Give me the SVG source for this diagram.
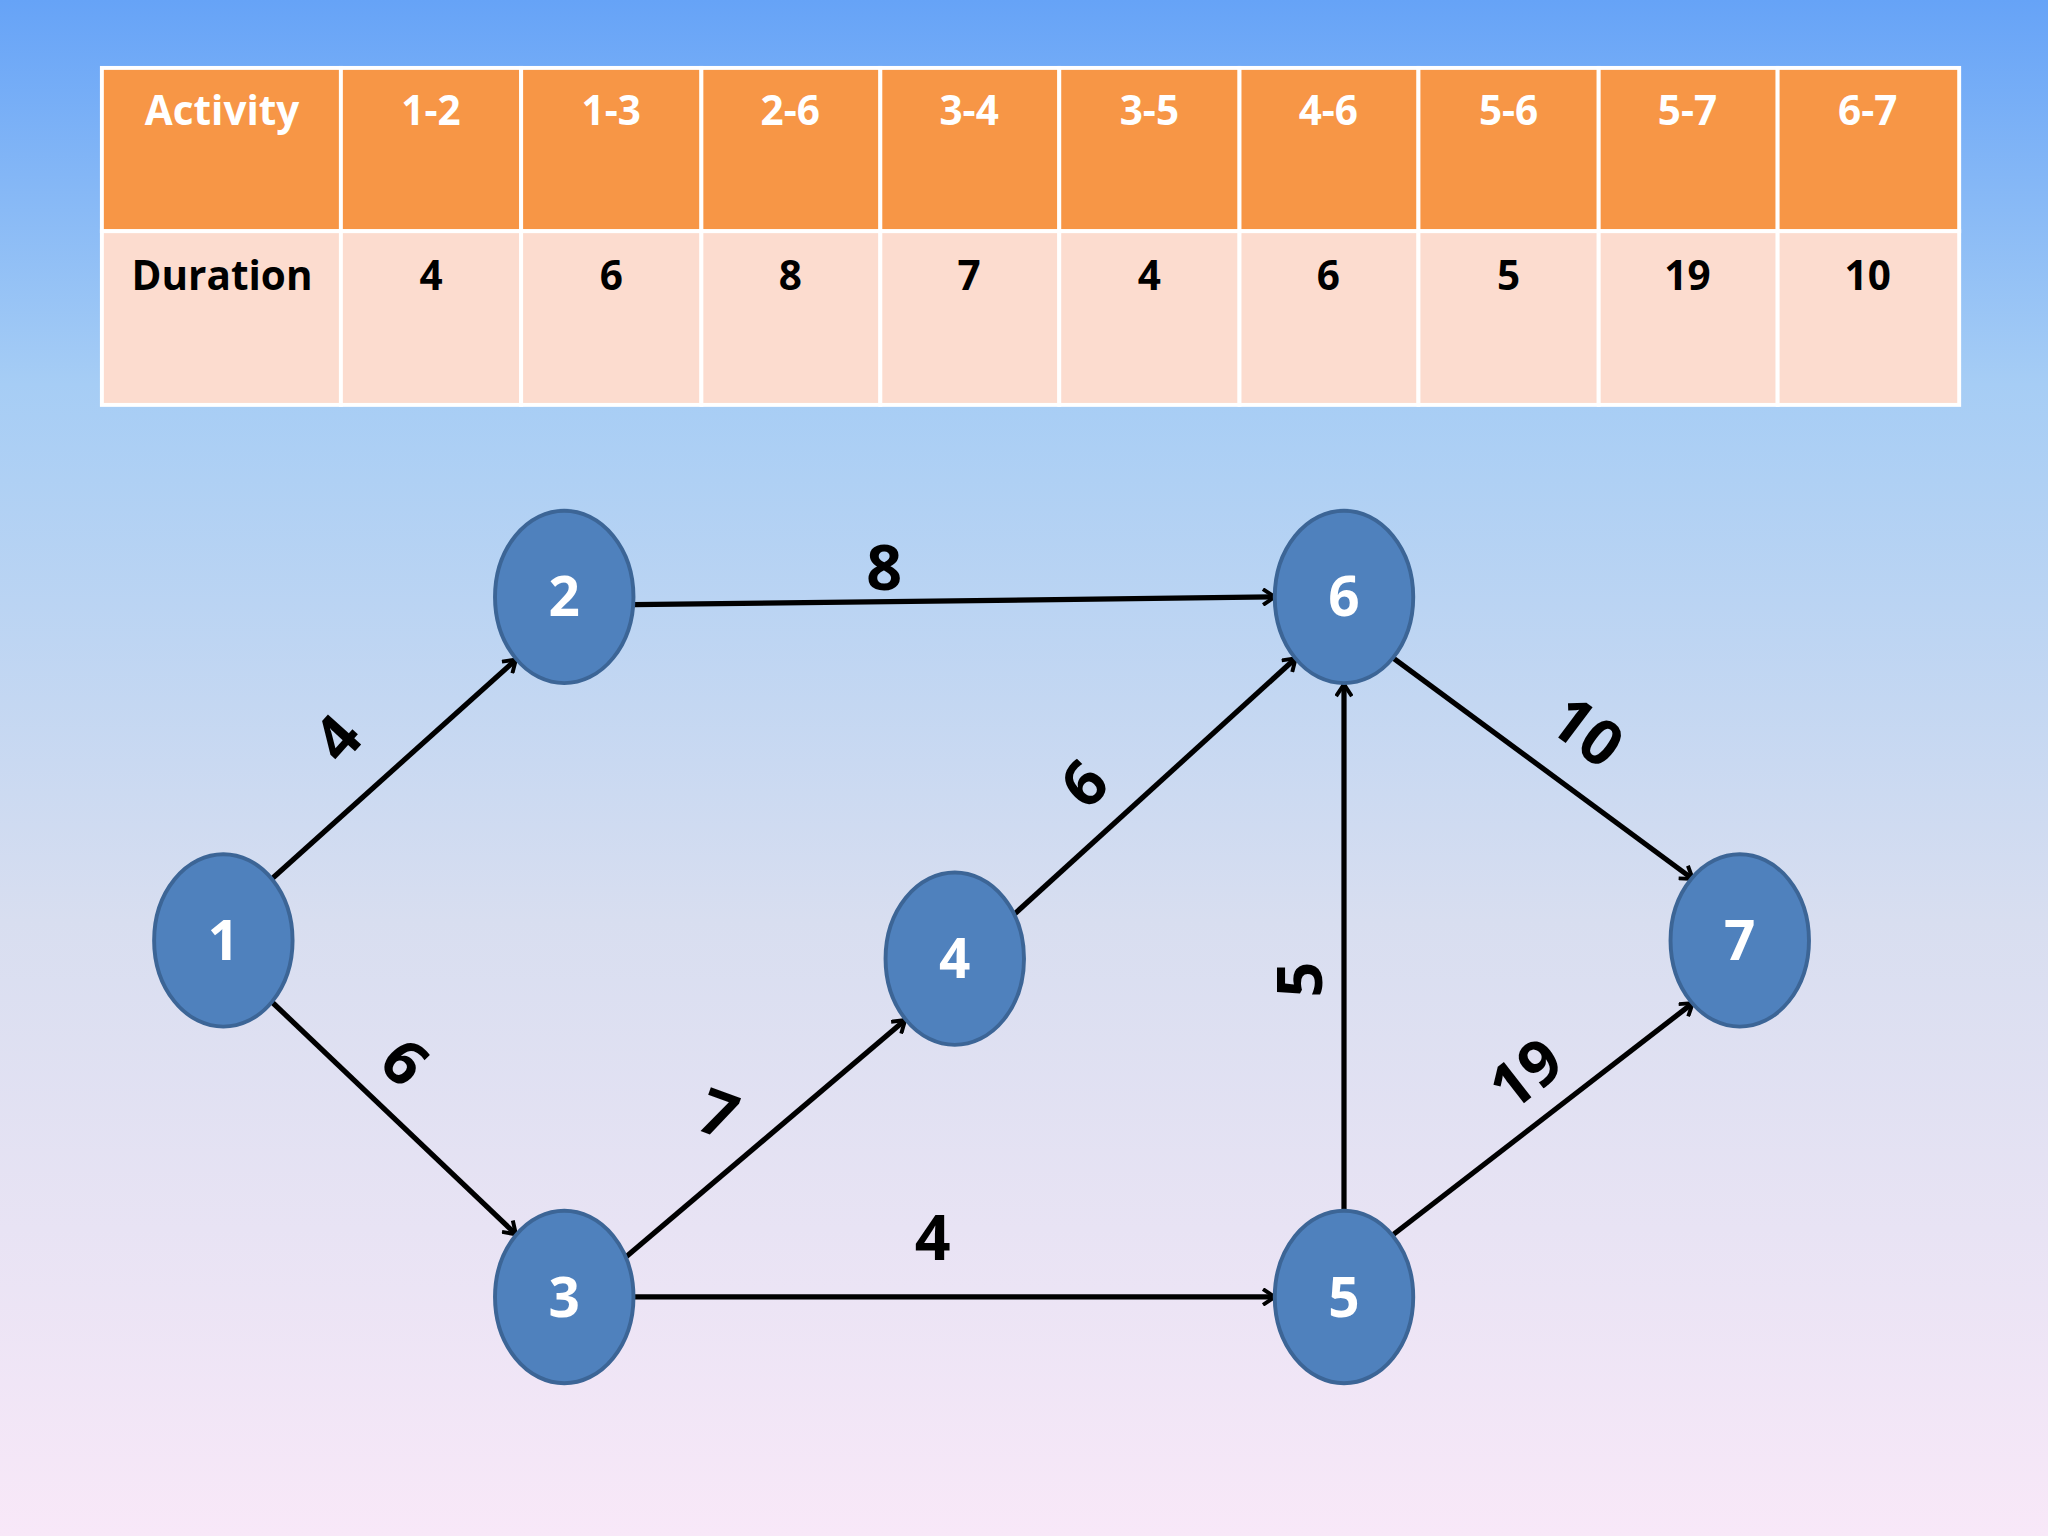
<svg xmlns="http://www.w3.org/2000/svg" width="2048" height="1536" viewBox="0 0 2048 1536">
<defs>
<linearGradient id="bg" x1="0" y1="0" x2="0" y2="1">
<stop offset="0" stop-color="#66a3f7"/><stop offset="0.25" stop-color="#a6cdf5"/><stop offset="0.6" stop-color="#d8def0"/><stop offset="1" stop-color="#f8e8f8"/>
</linearGradient>
<marker id="ah" markerWidth="14" markerHeight="14" refX="11" refY="7" orient="auto" markerUnits="userSpaceOnUse">
<path d="M2,1 L11,7 L2,13" fill="none" stroke="#000" stroke-width="3"/>
</marker>
<style>
.h{fill:#f79646;stroke:#fff;stroke-width:3}
.c{fill:#fcdccf;stroke:#fff;stroke-width:3}
.ht{font-family:"Open Sans","Liberation Sans",sans-serif;font-weight:bold;font-size:31px;fill:#fff;text-anchor:middle}
.ct{font-family:"Open Sans","Liberation Sans",sans-serif;font-weight:bold;font-size:31px;fill:#000;text-anchor:middle}
.n{fill:#4f81bd;stroke:#3c6596;stroke-width:3}
.nt{font-family:"Open Sans","Liberation Sans",sans-serif;font-weight:bold;font-size:42px;fill:#fff;text-anchor:middle}
.e{stroke:#000;stroke-width:4;fill:none;marker-end:url(#ah)}
.el{font-family:"Open Sans","Liberation Sans",sans-serif;font-weight:bold;font-size:48px;fill:#000;text-anchor:middle}
</style>
</defs>
<rect width="2048" height="1536" fill="url(#bg)"/>
<g transform="scale(1.30612)">
<g id="table">
<rect class="h" x="78" y="52" width="183" height="125"/>
<rect class="h" x="261" y="52" width="138" height="125"/>
<rect class="h" x="399" y="52" width="138" height="125"/>
<rect class="h" x="537" y="52" width="137" height="125"/>
<rect class="h" x="674" y="52" width="137" height="125"/>
<rect class="h" x="811" y="52" width="138" height="125"/>
<rect class="h" x="949" y="52" width="137" height="125"/>
<rect class="h" x="1086" y="52" width="138" height="125"/>
<rect class="h" x="1224" y="52" width="137" height="125"/>
<rect class="h" x="1361" y="52" width="139" height="125"/>
<rect class="c" x="78" y="177" width="183" height="133"/>
<rect class="c" x="261" y="177" width="138" height="133"/>
<rect class="c" x="399" y="177" width="138" height="133"/>
<rect class="c" x="537" y="177" width="137" height="133"/>
<rect class="c" x="674" y="177" width="137" height="133"/>
<rect class="c" x="811" y="177" width="138" height="133"/>
<rect class="c" x="949" y="177" width="137" height="133"/>
<rect class="c" x="1086" y="177" width="138" height="133"/>
<rect class="c" x="1224" y="177" width="137" height="133"/>
<rect class="c" x="1361" y="177" width="139" height="133"/>
<text class="ht" x="170" y="96">Activity</text>
<text class="ht" x="330" y="96">1-2</text>
<text class="ht" x="468" y="96">1-3</text>
<text class="ht" x="605" y="96">2-6</text>
<text class="ht" x="742" y="96">3-4</text>
<text class="ht" x="880" y="96">3-5</text>
<text class="ht" x="1017" y="96">4-6</text>
<text class="ht" x="1155" y="96">5-6</text>
<text class="ht" x="1292" y="96">5-7</text>
<text class="ht" x="1430" y="96">6-7</text>
<text class="ct" x="170" y="222">Duration</text>
<text class="ct" x="330" y="222">4</text>
<text class="ct" x="468" y="222">6</text>
<text class="ct" x="605" y="222">8</text>
<text class="ct" x="742" y="222">7</text>
<text class="ct" x="880" y="222">4</text>
<text class="ct" x="1017" y="222">6</text>
<text class="ct" x="1155" y="222">5</text>
<text class="ct" x="1292" y="222">19</text>
<text class="ct" x="1430" y="222">10</text>
</g>
<g id="connectors">
<path class="e" d="M208,673 L395,505"/>
<path class="e" d="M207,766 L395,945"/>
<path class="e" d="M485,463 L976,457"/>
<path class="e" d="M476,965 L693,781"/>
<path class="e" d="M485,993 L976,993"/>
<path class="e" d="M771,705 L992,504"/>
<path class="e" d="M1029,927 L1029,524"/>
<path class="e" d="M1067,504 L1296,673"/>
<path class="e" d="M1067,945 L1296,768"/>
<text class="el" transform="translate(258,565) rotate(-48)" dy="17">4</text>
<text class="el" transform="translate(310,813) rotate(45)" dy="17">6</text>
<text class="el" x="677" y="452">8</text>
<text class="el" transform="translate(550,853) rotate(20)" dy="17">7</text>
<text class="el" x="714" y="965">4</text>
<text class="el" transform="translate(830,600) rotate(-45)" dy="17">6</text>
<text class="el" transform="translate(995,750) rotate(-90)" dy="17">5</text>
<text class="el" transform="translate(1215,560) rotate(37)" dy="17">10</text>
<text class="el" transform="translate(1168,822) rotate(-38)" dy="17">19</text>
</g>
<g id="n1"><ellipse class="n" cx="171" cy="720" rx="53" ry="66"/><text class="nt" x="171" y="735">1</text></g>
<g id="n2"><ellipse class="n" cx="432" cy="457" rx="53" ry="66"/><text class="nt" x="432" y="472">2</text></g>
<g id="n3"><ellipse class="n" cx="432" cy="993" rx="53" ry="66"/><text class="nt" x="432" y="1008">3</text></g>
<g id="n4"><ellipse class="n" cx="731" cy="734" rx="53" ry="66"/><text class="nt" x="731" y="749">4</text></g>
<g id="n5"><ellipse class="n" cx="1029" cy="993" rx="53" ry="66"/><text class="nt" x="1029" y="1008">5</text></g>
<g id="n6"><ellipse class="n" cx="1029" cy="457" rx="53" ry="66"/><text class="nt" x="1029" y="472">6</text></g>
<g id="n7"><ellipse class="n" cx="1332" cy="720" rx="53" ry="66"/><text class="nt" x="1332" y="735">7</text></g>
</g>
</svg>
